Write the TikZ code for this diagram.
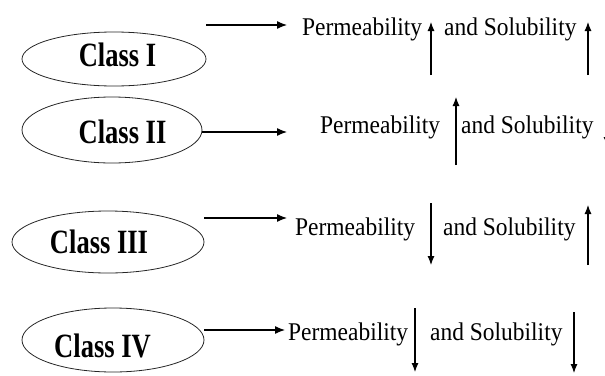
\documentclass[tikz,border=0pt]{standalone}
\usepackage{fontspec}
\setmainfont{Liberation Serif}
\newfontfamily\clsfont[FakeStretch=0.78]{Liberation Serif}
\newfontfamily\permfont[FakeStretch=0.92]{Liberation Serif}
\usetikzlibrary{shapes.geometric, arrows.meta}

\begin{document}
\begin{tikzpicture}[
  x=1pt, y=-1pt,
  cls/.style={draw=black!85, ellipse, line width=0.8pt, inner sep=0pt},
  ctext/.style={anchor=base, inner sep=0pt, font=\clsfont\bfseries\fontsize{34}{40}\selectfont},
  ptext/.style={anchor=base west, inner sep=0pt, font=\permfont\fontsize{25.5}{30}\selectfont},
  arr/.style={line width=1.2pt, -{Latex[length=10pt, width=8pt]}},
  updn/.style={line width=1.1pt, -{Latex[length=9pt, width=7pt]}}
]
\useasboundingbox (0,0) rectangle (605,375);
% classes
\node [cls, minimum width=184pt, minimum height=54pt] (c1) at (114,59) {};
\node [cls, minimum width=180pt, minimum height=66pt] (c2) at (112,130) {};
\node [cls, minimum width=192pt, minimum height=62pt] (c3) at (108,242) {};
\node [cls, minimum width=182pt, minimum height=64pt] (c4) at (113,340) {};
\node [ctext] (t1) at (117.5,66) {Class I};
\node [ctext] (t2) at (122.5,143) {Class II};
\node [ctext] (t3) at (99,253) {Class III};
\node [ctext] (t4) at (102.5,357) {Class IV};
% texts
\node [ptext] (p1) at (302,35) {Permeability};
\node [ptext] (s1) at (444,35) {and Solubility};
\node [ptext] (p2) at (320,133) {Permeability};
\node [ptext] (s2) at (461,133) {and Solubility};
\node [ptext] (p3) at (295,235) {Permeability};
\node [ptext] (s3) at (443,235) {and Solubility};
\node [ptext] (p4) at (288,340) {Permeability};
\node [ptext] (s4) at (430,340) {and Solubility};
% arrows to the texts
\coordinate (h1) at (287,25);
\coordinate (h2) at (287,132);
\coordinate (h3) at (287,218);
\coordinate (h4) at (285,330);
\draw [arr] (c1.east |- h1) -- (h1);
\draw [arr] (c2.east |- h2) -- (h2);
\draw [arr] (c3.east |- h3) -- (h3);
\draw [arr] (c4.east |- h4) -- (h4);
% up and down
\draw [updn] (431,75) -- (431,22);
\draw [updn] (588,75) -- (588,22);
\draw [updn] (456,165) -- (456,97);
\draw [updn] (607,112) -- (607,146);
\draw [updn] (431,203) -- (431,265);
\draw [updn] (588,265) -- (588,205);
\draw [updn] (415,308) -- (415,372);
\draw [updn] (574,312) -- (574,373);
\end{tikzpicture}
\end{document}
